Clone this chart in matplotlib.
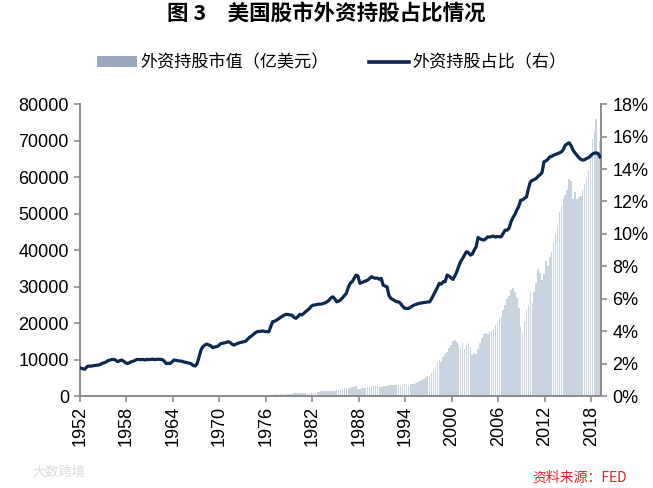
import matplotlib
matplotlib.use("Agg")
import matplotlib.pyplot as plt
from matplotlib.patches import Patch
from matplotlib.lines import Line2D
from matplotlib.ticker import FuncFormatter
import numpy as np

plt.rcParams['font.family'] = ['Liberation Sans', 'Noto Sans CJK SC', 'DejaVu Sans']

# Quarterly data 1952Q1 .. 2019Q1
# Foreign holdings market value (亿美元), 4 values per year
holdings = [
    30, 30, 30, 32,          # 1952
    32, 32, 33, 34,          # 1953
    35, 38, 40, 45,          # 1954
    48, 50, 55, 55,          # 1955
    58, 60, 58, 57,          # 1956
    58, 60, 55, 52,          # 1957
    55, 58, 62, 68,          # 1958
    70, 72, 72, 75,          # 1959
    74, 74, 72, 78,          # 1960
    85, 88, 90, 95,          # 1961
    92, 80, 78, 85,          # 1962
    88, 92, 95, 98,          # 1963
    102, 105, 108, 110,      # 1964
    112, 110, 115, 118,      # 1965
    115, 108, 100, 104,      # 1966
    115, 120, 130, 140,      # 1967
    145, 160, 165, 175,      # 1968
    170, 165, 158, 160,      # 1969
    150, 135, 150, 160,      # 1970
    170, 170, 168, 175,      # 1971
    185, 190, 192, 200,      # 1972
    190, 185, 190, 180,      # 1973
    170, 155, 130, 140,      # 1974
    160, 185, 175, 190,      # 1975
    200, 210, 230, 260,      # 1976
    450, 480, 500, 520,      # 1977
    520, 560, 600, 580,      # 1978
    620, 650, 700, 720,      # 1979
    760, 850, 900, 950,      # 1980
    920, 900, 850, 900,      # 1981
    880, 850, 1000, 1200,    # 1982
    1300, 1400, 1400, 1450,  # 1983
    1350, 1350, 1450, 1500,  # 1984
    1600, 1700, 1650, 1900,  # 1985
    2100, 2250, 2150, 2200,  # 1986
    2500, 2600, 2750, 1950,  # 1987
    2000, 2150, 2200, 2300,  # 1988
    2450, 2600, 2800, 2750,  # 1989
    2700, 2800, 2450, 2550,  # 1990
    2800, 2750, 2850, 2950,  # 1991
    2900, 2900, 2950, 3050,  # 1992
    3100, 3150, 3200, 3250,  # 1993
    3200, 3150, 3250, 3200,  # 1994
    3400, 3650, 3900, 4100,  # 1995
    4500, 4800, 5100, 5400,  # 1996
    5600, 6400, 7400, 8000,  # 1997
    9200, 9900, 9400, 10800,     # 1998
    11500, 12200, 13200, 14000,  # 1999
    15100, 15300, 14900, 14000,  # 2000
    13200, 14500, 12800, 14000,  # 2001
    14500, 13500, 11300, 11900,  # 2002
    11600, 13000, 14500, 16000,  # 2003
    17000, 17200, 17000, 17700,  # 2004
    17800, 18500, 19500, 20000,  # 2005
    21500, 22000, 23500, 25000,  # 2006
    26500, 27500, 29000, 29700,  # 2007
    28500, 27000, 24000, 19000,  # 2008
    17300, 20500, 23600, 25000,  # 2009
    28300, 25600, 28500, 31000,  # 2010
    34700, 33800, 31900, 33500,  # 2011
    36900, 35600, 38000, 39600,  # 2012
    42000, 44800, 47000, 50500,  # 2013
    52000, 54000, 55000, 56600,  # 2014
    59400, 59000, 53900, 56000,  # 2015
    53900, 54500, 54700, 56500,  # 2016
    58000, 60000, 62000, 66000,  # 2017
    70400, 72500, 76000, 66000,  # 2018
    70000,                       # 2019
]

# Foreign holdings share (%), right axis
share = [
    1.72, 1.68, 1.65, 1.80,   # 1952
    1.85, 1.84, 1.86, 1.88,   # 1953
    1.90, 1.91, 1.95, 2.02,   # 1954
    2.05, 2.10, 2.18, 2.22,   # 1955
    2.25, 2.26, 2.20, 2.12,   # 1956
    2.18, 2.22, 2.15, 2.05,   # 1957
    2.00, 2.05, 2.12, 2.15,   # 1958
    2.20, 2.26, 2.25, 2.24,   # 1959
    2.26, 2.22, 2.26, 2.25,   # 1960
    2.26, 2.27, 2.25, 2.26,   # 1961
    2.27, 2.26, 2.25, 2.15,   # 1962
    2.00, 2.02, 2.00, 2.10,   # 1963
    2.22, 2.20, 2.18, 2.16,   # 1964
    2.15, 2.10, 2.08, 2.05,   # 1965
    2.02, 1.98, 1.88, 1.85,   # 1966
    2.00, 2.42, 2.85, 3.05,   # 1967
    3.15, 3.20, 3.15, 3.10,   # 1968
    2.98, 3.02, 3.05, 3.10,   # 1969
    3.22, 3.25, 3.28, 3.30,   # 1970
    3.35, 3.30, 3.20, 3.14,   # 1971
    3.20, 3.25, 3.29, 3.32,   # 1972
    3.35, 3.38, 3.50, 3.62,   # 1973
    3.70, 3.80, 3.90, 3.97,   # 1974
    3.98, 4.00, 4.01, 3.98,   # 1975
    3.97, 3.96, 4.30, 4.58,   # 1976
    4.62, 4.68, 4.76, 4.85,   # 1977
    4.92, 5.00, 5.04, 5.02,   # 1978
    5.00, 4.98, 4.85, 4.79,   # 1979
    4.90, 5.04, 5.00, 5.10,   # 1980
    5.20, 5.30, 5.40, 5.55,   # 1981
    5.61, 5.62, 5.65, 5.67,   # 1982
    5.67, 5.70, 5.75, 5.81,   # 1983
    5.90, 6.05, 6.12, 6.00,   # 1984
    5.81, 5.85, 5.92, 6.05,   # 1985
    6.20, 6.33, 6.70, 6.95,   # 1986
    7.05, 7.25, 7.46, 7.40,   # 1987
    6.95, 7.00, 7.05, 7.10,   # 1988
    7.15, 7.25, 7.36, 7.30,   # 1989
    7.26, 7.28, 7.20, 7.26,   # 1990
    6.84, 6.78, 6.74, 6.20,   # 1991
    6.02, 5.95, 5.88, 5.81,   # 1992
    5.81, 5.70, 5.55, 5.42,   # 1993
    5.40, 5.40, 5.45, 5.55,   # 1994
    5.61, 5.65, 5.70, 5.72,   # 1995
    5.75, 5.76, 5.78, 5.80,   # 1996
    5.81, 6.00, 6.23, 6.45,   # 1997
    6.70, 6.95, 6.90, 7.05,   # 1998
    7.05, 7.46, 7.40, 7.30,   # 1999
    7.19, 7.40, 7.66, 8.00,   # 2000
    8.30, 8.48, 8.70, 8.90,   # 2001
    8.85, 8.69, 8.75, 9.00,   # 2002
    9.20, 9.78, 9.70, 9.65,   # 2003
    9.62, 9.70, 9.82, 9.80,   # 2004
    9.84, 9.86, 9.80, 9.84,   # 2005
    9.82, 9.82, 10.05, 10.23,   # 2006
    10.23, 10.35, 10.74, 11.00, # 2007
    11.20, 11.47, 11.70, 12.08, # 2008
    12.10, 12.20, 12.28, 12.80, # 2009
    13.21, 13.30, 13.35, 13.42, # 2010
    13.55, 13.65, 13.77, 14.45, # 2011
    14.50, 14.60, 14.75, 14.78, # 2012
    14.86, 14.90, 14.95, 15.00, # 2013
    15.06, 15.20, 15.47, 15.55, # 2014
    15.62, 15.45, 15.17, 15.00, # 2015
    14.85, 14.71, 14.60, 14.55, # 2016
    14.58, 14.65, 14.70, 14.80, # 2017
    14.92, 14.98, 15.00, 14.95, # 2018
    14.75,                      # 2019
]

year_labels = ['1952', '1958', '1964', '1970', '1976', '1982', '1988',
               '1994', '2000', '2006', '2012', '2018']

title = '图 3　美国股市外资持股占比情况'
bar_name = '外资持股市值（亿美元）'
line_name = '外资持股占比（右）'
source = '资料来源：FED'
watermark = '大数跨境'

cjk = ['Noto Sans CJK SC', 'DejaVu Sans']

n = len(holdings)
x = np.arange(n) + 0.5

fig = plt.figure(figsize=(6.53, 4.88), dpi=100)
ax = fig.add_axes([0.1225, 0.1885, 0.798, 0.598])
ax2 = ax.twinx()

bar_color = '#c8d3df'
line_color = '#0b2850'
spine_color = '#8c8c8c'

ax.bar(x, holdings, width=0.8, color=bar_color, edgecolor='none', zorder=2)
ax2.plot(x, np.array(share) / 100.0, color=line_color, lw=2.3, zorder=3,
         solid_joinstyle='round')

ax.set_xlim(0, n)
ax.set_ylim(0, 80000)
ax.set_yticks(np.arange(0, 80001, 10000))
ax2.set_ylim(0, 0.18)
ax2.set_yticks(np.arange(0, 0.1801, 0.02))
ax2.yaxis.set_major_formatter(FuncFormatter(lambda v, p: f'{v*100:.0f}%'))

ax.set_xticks(np.arange(0, 24 * len(year_labels), 24))
ax.set_xticklabels(year_labels, rotation=90)

for a in (ax, ax2):
    a.spines['top'].set_visible(False)
    for s in ('left', 'right', 'bottom'):
        a.spines[s].set_color(spine_color)
        a.spines[s].set_linewidth(1.3)
    a.tick_params(axis='both', colors=spine_color, labelcolor='black',
                  labelsize=13, length=4, width=1.2, direction='out')
ax.tick_params(axis='y', pad=4)
ax.tick_params(axis='x', pad=3)
ax2.tick_params(axis='y', pad=4)

fig.text(0.5, 0.973, title, ha='center', va='center', fontsize=15.5,
         fontweight='bold', family=cjk)

handles = [Patch(facecolor='#9aa9bb', edgecolor='none'),
           Line2D([0], [0], color=line_color, lw=2.6)]
leg = fig.legend(handles, [bar_name, line_name], loc='center',
                 bbox_to_anchor=(0.508, 0.872), ncol=2, frameon=False,
                 prop={'family': cjk, 'size': 12.3},
                 handlelength=2.3, handleheight=0.55, handletextpad=0.2,
                 columnspacing=2.4, borderpad=0.2)

fig.text(0.96, 0.0205, source, ha='right', va='center', fontsize=10,
         color='#e8202a', style='italic', family=cjk)
fig.text(0.05, 0.033, watermark, ha='left', va='center', fontsize=9.5,
         color='#dcdcdc', family=cjk)

fig.savefig('out.png', dpi=100)
